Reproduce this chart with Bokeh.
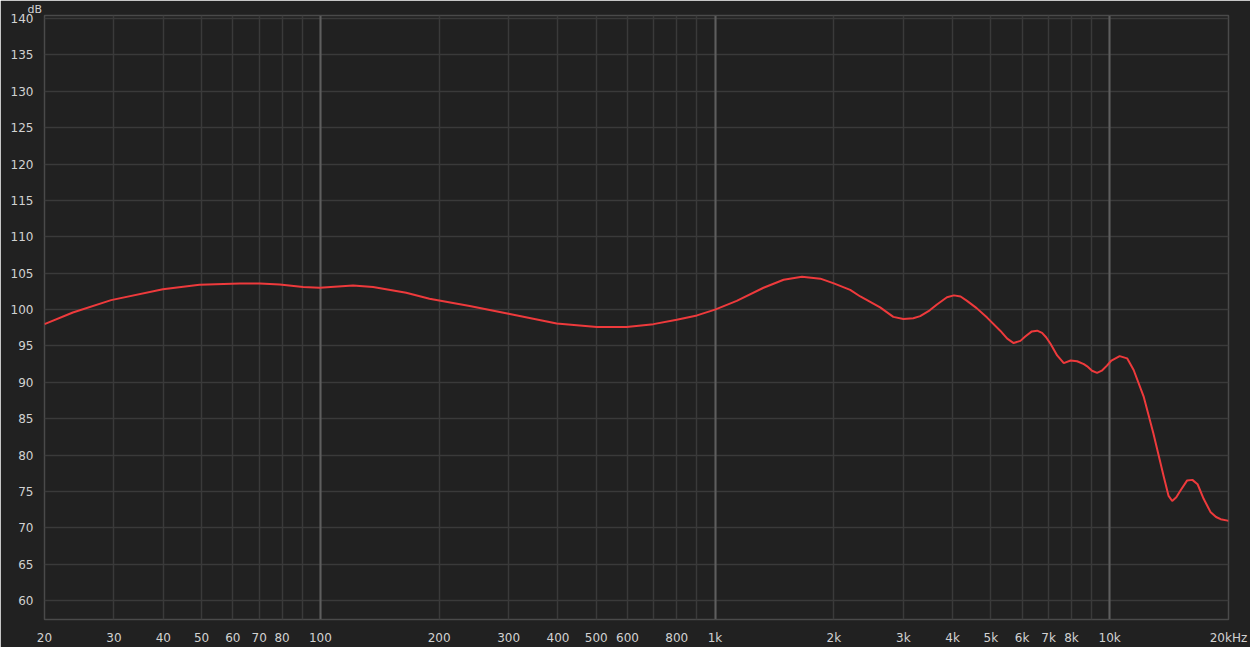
from bokeh.plotting import figure
from bokeh.models import FixedTicker, Grid, Range1d
from bokeh.embed import file_html
from bokeh.resources import INLINE

# Frequency response (Hz, dB)
freq = [20, 23.6, 29.5, 39.9, 49.4, 62.5, 70.2, 78.9, 90.4, 99.6, 121, 136, 165,
        189, 239, 302, 397, 502, 597, 698, 800, 900, 1000, 1135, 1327, 1492, 1661,
        1849, 2000, 2200, 2334, 2620, 2830, 3000, 3180, 3310, 3500, 3650, 3870, 4030,
        4190, 4350, 4600, 4890, 5280, 5500, 5710, 5940, 6110, 6350, 6550, 6740, 6900,
        7080, 7360, 7650, 7960, 8270, 8600, 8770, 9020, 9290, 9550, 9840, 10100,
        10600, 11070, 11500, 12200, 12900, 13700, 14100, 14400, 14750, 15100, 15700,
        16200, 16700, 17300, 18000, 18600, 19100, 19900, 20000]
spl = [98.0, 99.6, 101.3, 102.8, 103.4, 103.6, 103.6, 103.45, 103.1, 103.0, 103.3,
       103.1, 102.3, 101.5, 100.5, 99.4, 98.1, 97.6, 97.6, 98.0, 98.6, 99.2, 100.0,
       101.2, 103.0, 104.1, 104.5, 104.25, 103.6, 102.7, 101.8, 100.3, 99.0, 98.7,
       98.8, 99.1, 99.9, 100.7, 101.7, 101.95, 101.8, 101.2, 100.2, 98.9, 97.1, 96.0,
       95.4, 95.7, 96.3, 97.0, 97.1, 96.8, 96.2, 95.3, 93.7, 92.65, 93.0, 92.9,
       92.5, 92.2, 91.6, 91.3, 91.6, 92.3, 93.0, 93.6, 93.3, 91.7, 88.0, 83.0, 77.1,
       74.4, 73.7, 74.2, 75.1, 76.5, 76.6, 76.0, 74.0, 72.2, 71.5, 71.2, 71.0, 71.0]

x_ticks = [20, 30, 40, 50, 60, 70, 80, 90, 100, 200, 300, 400, 500, 600, 700, 800,
           900, 1000, 2000, 3000, 4000, 5000, 6000, 7000, 8000, 9000, 10000, 20000]
x_labels = ["20", "30", "40", "50", "60", "70", "80", "", "100", "200", "300", "400",
            "500", "600", "", "800", "", "1k", "2k", "3k", "4k", "5k", "6k", "7k",
            "8k", "", "10k", "20kHz"]
decades = [100, 1000, 10000]
y_ticks = list(range(60, 141, 5))
unit_label = "dB"

BG = "#212121"
GRID = "#3a3a3a"
DEC = "#5e5e5e"
TXT = "#d2d2d2"
FONT = "DejaVu Sans"

p = figure(width=1250, height=647, x_axis_type="log", output_backend="svg",
           toolbar_location=None, background_fill_color=BG,
           border_fill_color=BG, min_border_left=44, min_border_right=22,
           min_border_top=15, min_border_bottom=22)
p.x_range = Range1d(20, 20000)
p.y_range = Range1d(57.415, 140.408)
p.outline_line_color = "#4a4a4a"
p.outline_line_width = 1.5

# "dB" unit label above the y-axis, drawn as the plot title
p.title.text = unit_label
p.title.text_color = TXT
p.title.text_font = FONT
p.title.text_font_size = "11px"
p.title.text_font_style = "normal"
p.title.align = "left"
p.title.offset = -17
p.title.standoff = 0

p.xaxis.ticker = FixedTicker(ticks=x_ticks)
p.xaxis.major_label_overrides = {t: l for t, l in zip(x_ticks, x_labels)}
p.yaxis.ticker = FixedTicker(ticks=y_ticks)
for ax in (p.xaxis, p.yaxis):
    ax.axis_line_color = None
    ax.major_tick_line_color = None
    ax.minor_tick_line_color = None
    ax.major_label_text_color = TXT
    ax.major_label_text_font = FONT
    ax.major_label_text_font_size = "12px"
p.xaxis.major_label_standoff = 5
p.yaxis.major_label_standoff = 5

p.xgrid.grid_line_color = GRID
p.xgrid.grid_line_width = 1.5
p.ygrid.grid_line_color = GRID
p.ygrid.grid_line_width = 1.5
p.xgrid.ticker = FixedTicker(ticks=x_ticks)
p.ygrid.ticker = FixedTicker(ticks=y_ticks)
dec_grid = Grid(dimension=0, ticker=FixedTicker(ticks=decades),
                grid_line_color=DEC, grid_line_width=2)
p.add_layout(dec_grid)

p.line(freq, spl, line_color="#ee3a3c", line_width=2)

html = file_html(p, INLINE)
html = html.replace("<body>", '<body style="background-color:#212121;">', 1)
open("out.html", "w").write(html)
